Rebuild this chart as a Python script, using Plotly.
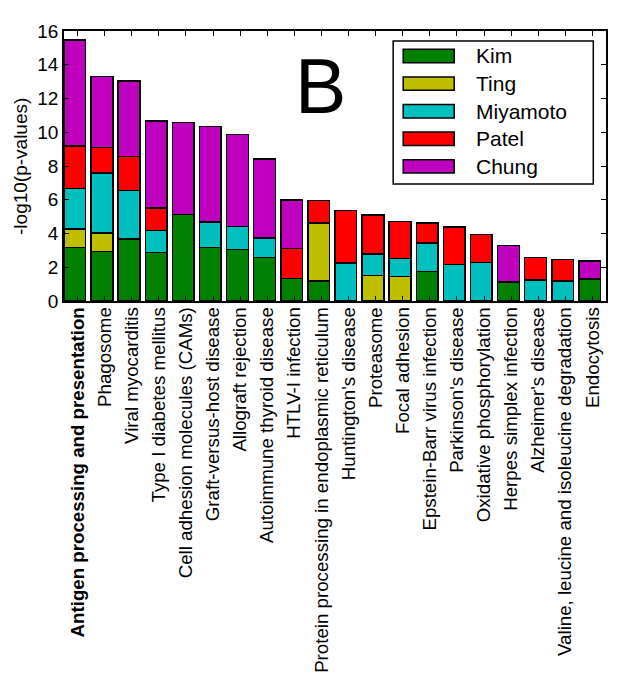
import plotly.graph_objects as go

categories = [
    "Antigen processing and presentation", "Phagosome", "Viral myocarditis",
    "Type I diabetes mellitus", "Cell adhesion molecules (CAMs)",
    "Graft-versus-host disease", "Allograft rejection", "Autoimmune thyroid disease",
    "HTLV-I infection", "Protein processing in endoplasmic reticulum",
    "Huntington's disease", "Proteasome", "Focal adhesion",
    "Epstein-Barr virus infection", "Parkinson's disease", "Oxidative phosphorylation",
    "Herpes simplex infection", "Alzheimer's disease",
    "Valine, leucine and isoleucine degradation", "Endocytosis",
]
kim = [3.18, 2.92, 3.67, 2.86, 5.14, 3.18, 3.04, 2.59, 1.32, 1.20, 0, 0, 0, 1.74, 0, 0, 1.13, 0, 0, 1.30]
ting = [1.09, 1.11, 0, 0, 0, 0, 0, 0, 0, 3.42, 0, 1.52, 1.46, 0, 0, 0, 0, 0, 0, 0]
miyamoto = [2.41, 3.57, 2.89, 1.33, 0, 1.50, 1.38, 1.14, 0, 0, 2.25, 1.28, 1.05, 1.70, 2.15, 2.27, 0, 1.24, 1.19, 0]
patel = [2.52, 1.49, 1.99, 1.32, 0, 0, 0, 0, 1.80, 1.33, 3.10, 2.30, 2.21, 1.18, 2.25, 1.66, 0, 1.35, 1.28, 0]
chung = [6.27, 4.22, 4.49, 5.16, 5.45, 5.67, 5.44, 4.68, 2.87, 0, 0, 0, 0, 0, 0, 0, 2.17, 0, 0, 1.07]

series_names = ["Kim", "Ting", "Miyamoto", "Patel", "Chung"]
series_values = [kim, ting, miyamoto, patel, chung]
series_colors = ["#008000", "#bfbf00", "#00bfbf", "#ff0000", "#bf00bf"]
y_ticks = [0, 2, 4, 6, 8, 10, 12, 14, 16]

FONT = "Liberation Sans, Arial, sans-serif"
OFF = 8  # browser body margin
W, H = 618 - OFF, 683 - OFF
# plot area in page pixels: x 64..605.7, y 31..301
L, T = 64 - OFF, 31 - OFF
PW, PH = 541.7, 270
R = W - L - PW
B = H - T - PH

def px(x):
    # page pixel -> paper coordinate
    return (x - OFF - L) / PW

def py(y):
    return (T + PH - (y - OFF)) / PH

x = list(range(len(categories)))
fig = go.Figure()
for name, vals, col in zip(series_names, series_values, series_colors):
    fig.add_trace(go.Bar(
        x=x, y=[v if v else None for v in vals], name=name, width=0.8,
        marker=dict(color=col, line=dict(color="black", width=1.5)),
        showlegend=False,
    ))

ticktext = ["<b>" + categories[0] + "</b>"] + categories[1:]

fig.update_layout(
    width=W, height=H, barmode="stack",
    margin=dict(l=L, r=R, t=T, b=B, autoexpand=False),
    plot_bgcolor="white", paper_bgcolor="white",
    font=dict(family=FONT, color="black"),
    xaxis=dict(
        range=[-0.4, 19.6], tickmode="array", tickvals=[i + 0.1 for i in x],
        ticktext=ticktext, tickangle=-90, tickfont=dict(size=18.7, family=FONT),
        ticks="inside", ticklen=5, tickwidth=1, tickcolor="black",
        ticklabelstandoff=-3,
        showline=True, linecolor="black", linewidth=1.5, mirror="ticks",
        showgrid=False, zeroline=False, automargin=False,
    ),
    yaxis=dict(
        range=[0, 16], tickmode="array", tickvals=y_ticks,
        tickfont=dict(size=19, family=FONT),
        ticks="inside", ticklen=5, tickwidth=1, tickcolor="black",
        showline=True, linecolor="black", linewidth=1.5, mirror="ticks",
        showgrid=False, zeroline=False, automargin=False,
    ),
)

# y-axis title
fig.add_annotation(
    text="-log10(p-values)", xref="paper", yref="paper", x=px(20), y=0.5,
    xanchor="center", yanchor="middle", textangle=-90, showarrow=False,
    font=dict(size=19, family=FONT, color="black"),
)
# panel letter
fig.add_annotation(
    text="B", xref="paper", yref="paper", x=px(320), y=py(86),
    xanchor="center", yanchor="middle", showarrow=False,
    font=dict(size=77, family=FONT, color="black"),
)

# legend (drawn in paper coordinates)
fig.add_shape(type="rect", xref="paper", yref="paper",
              x0=px(393), x1=px(593), y0=py(184), y1=py(41),
              line=dict(color="black", width=1.5), fillcolor="white", layer="above")
for k, (name, col) in enumerate(zip(series_names, series_colors)):
    cy = 56 + 27.6 * k
    fig.add_shape(type="rect", xref="paper", yref="paper",
                  x0=px(403), x1=px(454), y0=py(cy + 6.7), y1=py(cy - 6.7),
                  line=dict(color="black", width=1.5), fillcolor=col, layer="above")
    fig.add_annotation(text=name, xref="paper", yref="paper", x=px(474), y=py(cy),
                       xanchor="left", yanchor="middle", showarrow=False,
                       font=dict(size=21, family=FONT, color="black"))

fig.write_html("out.html")
